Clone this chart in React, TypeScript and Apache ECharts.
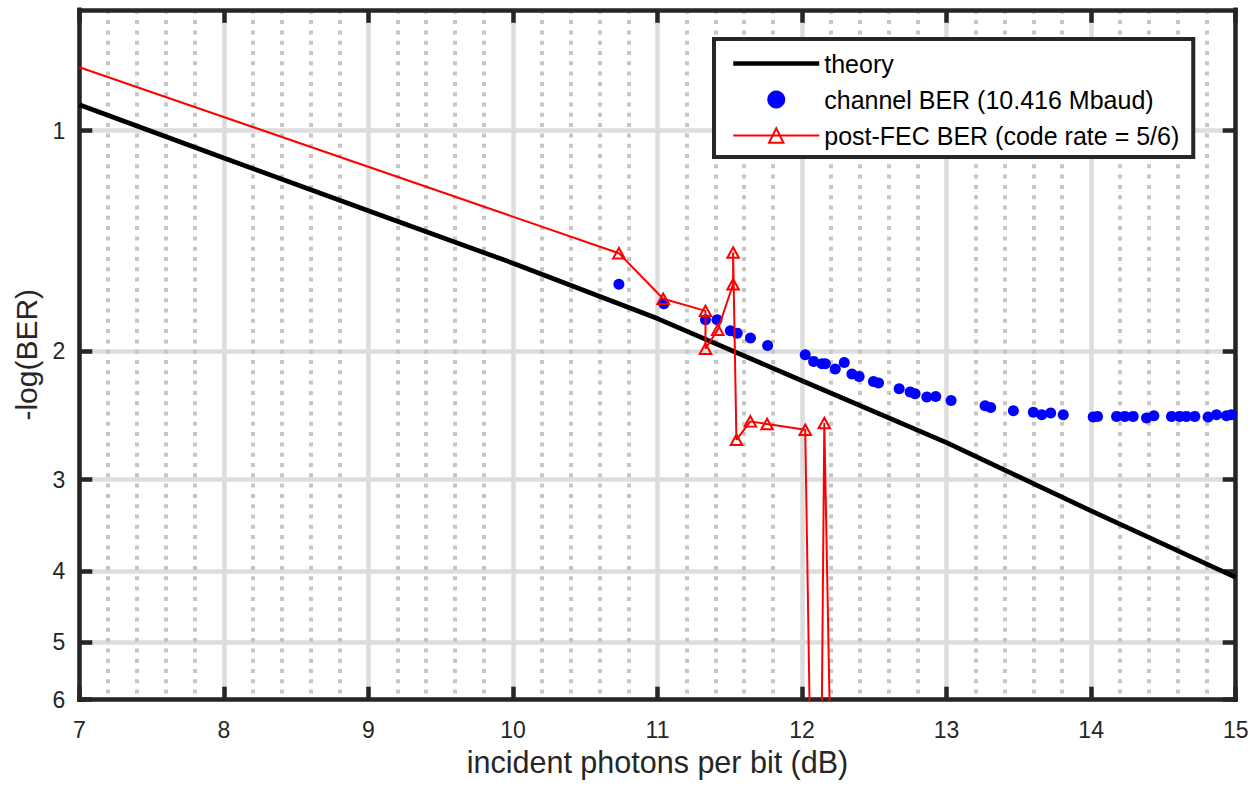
import React, { useEffect, useRef } from 'react';
import * as echarts from 'echarts';

// ---- data ----
const xTicks = [7, 8, 9, 10, 11, 12, 13, 14, 15];
const yTicks = [1, 2, 3, 4, 5, 6];

const theoryX = [7, 8, 9, 10, 11, 12, 13, 14, 15];
const theoryY = [0.922, 1.09, 1.287, 1.518, 1.807, 2.198, 2.671, 3.311, 4.081];

const channelX = [
  10.733, 11.044, 11.332, 11.412, 11.504, 11.551, 11.643, 11.762, 12.022, 12.08,
  12.138, 12.161, 12.23, 12.292, 12.345, 12.395, 12.494, 12.529, 12.672, 12.748,
  12.782, 12.863, 12.925, 13.031, 13.266, 13.305, 13.462, 13.6, 13.658, 13.72,
  13.807, 14.014, 14.044, 14.176, 14.233, 14.291, 14.383, 14.434, 14.556, 14.613,
  14.659, 14.717, 14.809, 14.867, 14.936, 14.97,
];
const channelY = [
  1.622, 1.725, 1.814, 1.814, 1.878, 1.892, 1.921, 1.967, 2.025, 2.068,
  2.084, 2.084, 2.118, 2.075, 2.152, 2.168, 2.203, 2.214, 2.254, 2.278,
  2.29, 2.314, 2.309, 2.339, 2.378, 2.391, 2.415, 2.428, 2.446, 2.433,
  2.446, 2.464, 2.459, 2.459, 2.459, 2.459, 2.471, 2.454, 2.459, 2.459,
  2.459, 2.459, 2.464, 2.446, 2.454, 2.446,
];

const fecX = [7, 10.733, 11.039, 11.332, 11.332, 11.417, 11.523, 11.523, 11.546, 11.642, 11.758, 12.022, 12.107, 12.154, 12.256];
const fecY = [0.819, 1.471, 1.698, 1.764, 1.987, 1.872, 1.622, 1.468, 2.647, 2.498, 2.519, 2.565, 29.7, 2.511, 29.7];

const seriesNames = ['theory', 'channel BER (10.416 Mbaud)', 'post-FEC BER (code rate = 5/6)'];

const FONT = "'Liberation Sans', Arial, Helvetica, sans-serif";
const AXIS_COLOR = '#262626';

export default function App() {
  const ref = useRef<HTMLDivElement>(null);

  useEffect(() => {
    if (!ref.current) return;
    const chart = echarts.init(ref.current, null, { renderer: 'svg' });

    const axisLine = { show: true, onZero: false, lineStyle: { color: AXIS_COLOR, width: 4.5, cap: 'square' } };
    const tick = { show: true, inside: true, length: 13, lineStyle: { color: AXIS_COLOR, width: 4.5 } };
    const majorSplit = { show: true, lineStyle: { color: '#dddddd', width: 4.5 } };

    const option: any = {
      animation: false,
      backgroundColor: '#ffffff',
      grid: { left: 79.3, right: 24.3, top: 9.8, bottom: 88.3, containLabel: false, outerBoundsMode: 'none' },
      legend: {
        orient: 'vertical',
        left: 714,
        top: 39,
        itemWidth: 86,
        itemHeight: 18,
        itemGap: 11,
        padding: [12, 14, 9, 17],
        backgroundColor: '#ffffff',
        borderColor: AXIS_COLOR,
        borderWidth: 4,
        textStyle: { fontFamily: FONT, fontSize: 25, color: '#000000' },
        data: [
          {
            name: seriesNames[0],
            lineStyle: { width: 4.5, color: '#000000' },
            itemStyle: { color: 'rgba(0,0,0,0)', borderWidth: 0, opacity: 0 },
          },
          { name: seriesNames[1] },
          {
            name: seriesNames[2],
            lineStyle: { width: 2, color: '#ff0000' },
            itemStyle: { color: 'rgba(0,0,0,0)', borderColor: '#ff0000', borderWidth: 2 },
          },
        ],
      },
      xAxis: [
        {
          type: 'value',
          min: 7,
          max: 15,
          interval: 1,
          position: 'bottom',
          name: 'incident photons per bit (dB)',
          nameLocation: 'middle',
          nameGap: 44,
          nameTextStyle: { fontFamily: FONT, fontSize: 30.5, color: AXIS_COLOR },
          axisLine,
          axisTick: tick,
          axisLabel: {
            fontFamily: FONT,
            fontSize: 23,
            color: AXIS_COLOR,
            margin: 19,
            customValues: xTicks,
            formatter: (v: number) => String(Math.round(v)),
          },
          splitLine: majorSplit,
          minorTick: { show: false, splitNumber: 5 },
          minorSplitLine: { show: true, lineStyle: { color: '#c6c6c6', width: 4, type: [4, 6.3] } },
        },
        {
          type: 'value',
          min: 7,
          max: 15,
          interval: 1,
          position: 'top',
          axisLine,
          axisTick: tick,
          axisLabel: { show: false },
          splitLine: { show: false },
        },
      ],
      yAxis: [
        {
          type: 'log',
          logBase: 10,
          inverse: true,
          min: 0.6836,
          max: 6,
          position: 'left',
          name: '-log(BER)',
          nameLocation: 'middle',
          nameGap: 14,
          nameRotate: 90,
          nameTextStyle: { fontFamily: FONT, fontSize: 30, color: AXIS_COLOR },
          axisLine,
          axisTick: { ...tick, customValues: yTicks },
          axisLabel: {
            customValues: yTicks,
            fontFamily: FONT,
            fontSize: 23,
            color: AXIS_COLOR,
            margin: 14,
            formatter: (v: number) => String(Math.round(v)),
          },
          splitLine: majorSplit,
          minorTick: { show: false },
          minorSplitLine: { show: false },
        },
        {
          type: 'log',
          logBase: 10,
          inverse: true,
          min: 0.6836,
          max: 6,
          position: 'right',
          axisLine,
          axisTick: { ...tick, customValues: yTicks },
          axisLabel: { show: false, customValues: yTicks },
          splitLine: { show: false },
        },
      ],
      series: [
        {
          name: seriesNames[0],
          type: 'line',
          xAxisIndex: 0,
          yAxisIndex: 0,
          symbol: 'none',
          lineStyle: { color: '#000000', width: 4.7, join: 'round' },
          itemStyle: { color: '#000000' },
          data: theoryX.map((x, i) => [x, theoryY[i]]),
          z: 3,
        },
        {
          name: seriesNames[1],
          type: 'scatter',
          xAxisIndex: 0,
          yAxisIndex: 0,
          symbol: 'circle',
          symbolSize: 11,
          itemStyle: { color: '#0000ff', opacity: 1 },
          data: channelX.map((x, i) => [x, channelY[i]]),
          z: 4,
        },
        {
          name: seriesNames[2],
          type: 'line',
          xAxisIndex: 0,
          yAxisIndex: 0,
          symbol: 'triangle',
          symbolSize: [11.5, 10.5],
          showSymbol: true,
          showAllSymbol: true,
          clip: true,
          lineStyle: { color: '#ff0000', width: 2 },
          itemStyle: { color: 'rgba(0,0,0,0)', borderColor: '#ff0000', borderWidth: 2 },
          data: fecX.map((x, i) =>
            i === 0 ? { value: [x, fecY[i]], symbol: 'none' } : [x, fecY[i]]
          ),
          z: 5,
        },
      ],
    };

    chart.setOption(option);
    return () => {
      chart.dispose();
    };
  }, []);

  return (
    <div
      ref={ref}
      style={{ position: 'absolute', left: 0, top: 0, width: 1260, height: 788, background: '#fff' }}
    />
  );
}
